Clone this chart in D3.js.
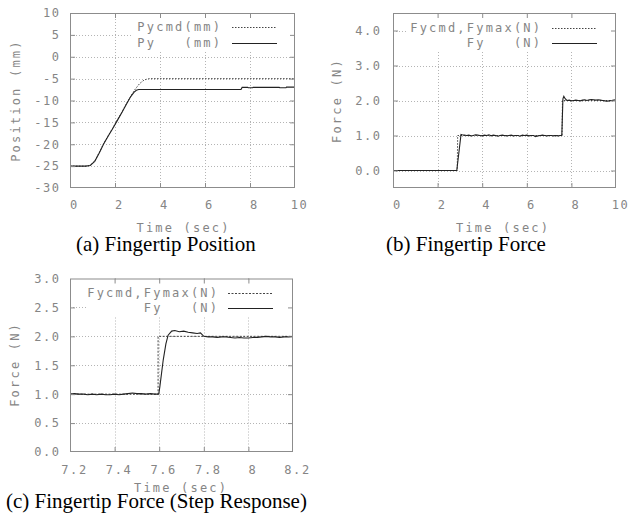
<!DOCTYPE html>
<html>
<head>
<meta charset="utf-8">
<script src="https://cdn.jsdelivr.net/npm/d3@7"></script>
<style>
  html, body { margin: 0; padding: 0; background: #fff; }
  svg { display: block; }
</style>
</head>
<body>
<div id="chart"></div>
<script>
// ---- data ----
// (a) position: [time (s), mm]
const pycmd = [
  [0, -25], [0.7, -25], [0.9, -24.8], [1.1, -23.8], [1.3, -21.9], [1.5, -19.8],
  [1.7, -18.0], [1.9, -16.3], [2.1, -14.5], [2.3, -12.7], [2.5, -10.8], [2.7, -9.0],
  [2.9, -7.4], [3.1, -6.1], [3.3, -5.3], [3.5, -5.0], [10, -5.0]
];
const py = [
  [0, -25], [0.7, -25], [0.9, -24.85], [1.1, -23.9], [1.3, -22.0], [1.5, -19.9],
  [1.7, -18.1], [1.9, -16.4], [2.1, -14.6], [2.3, -12.8], [2.5, -10.9], [2.7, -9.1],
  [2.85, -8.1], [2.95, -7.65], [3.05, -7.5], [7.6, -7.5], [7.65, -7.0], [7.9, -7.0],
  [7.92, -7.08], [8.12, -7.08], [8.14, -7.0], [9.3, -7.0], [9.32, -7.08], [9.6, -7.08],
  [9.62, -6.95], [10, -6.95]
];

// (b) force: [time (s), N]
const fycmdB = [[0, 0], [2.88, 0], [2.9, 1], [7.58, 1], [7.6, 2], [10, 2]];
const fyB = [
  [0, 0], [2.86, 0], [3.05, 1.03], [3.1, 1.02], [3.2, 1.01], [3.3, 1.00], [3.4, 1.01],
  [3.5, 0.99], [3.6, 1.00], [3.7, 1.02], [3.8, 1.01], [3.9, 1.00], [4.0, 0.99],
  [4.1, 1.01], [4.2, 1.00], [4.3, 1.02], [4.4, 0.99], [4.5, 1.01], [4.6, 1.00],
  [4.7, 0.98], [4.8, 1.00], [4.9, 1.01], [5.0, 1.00], [5.1, 0.99], [5.2, 1.00],
  [5.3, 1.01], [5.4, 0.99], [5.5, 1.00], [5.6, 1.00], [5.7, 0.98], [5.8, 1.01],
  [5.9, 1.00], [6.0, 1.01], [6.1, 0.99], [6.2, 1.00], [6.3, 1.00], [6.4, 0.97],
  [6.5, 0.99], [6.6, 1.00], [6.7, 1.01], [6.8, 1.00], [6.9, 0.99], [7.0, 1.00],
  [7.1, 1.00], [7.2, 0.99], [7.3, 1.00], [7.4, 0.99], [7.5, 1.00], [7.57, 1.00],
  [7.62, 2.05], [7.66, 2.12], [7.72, 2.05], [7.8, 2.00], [7.9, 2.01], [8.0, 1.99],
  [8.1, 2.00], [8.2, 2.01], [8.3, 2.00], [8.4, 1.99], [8.5, 2.01], [8.6, 2.02],
  [8.7, 2.00], [8.8, 2.02], [8.9, 2.03], [9.0, 2.02], [9.1, 2.01], [9.2, 2.02],
  [9.3, 2.01], [9.4, 2.00], [9.5, 1.99], [9.6, 1.98], [9.7, 1.99], [9.8, 2.00],
  [9.9, 2.01], [10, 2.02]
];

// (c) step response zoom
const fycmdC = [[7.2, 1], [7.595, 1], [7.595, 2], [8.2, 2]];
const fyC = [
  [7.2, 1.00], [7.22, 1.01], [7.24, 1.00], [7.26, 1.00], [7.28, 0.99], [7.30, 1.00],
  [7.32, 0.99], [7.34, 1.00], [7.36, 0.99], [7.38, 0.99], [7.40, 1.00], [7.42, 0.99],
  [7.44, 1.00], [7.46, 1.01], [7.48, 1.02], [7.50, 1.01], [7.52, 1.01], [7.54, 1.00],
  [7.56, 1.01], [7.58, 1.00], [7.598, 1.00], [7.603, 1.13], [7.618, 1.59],
  [7.63, 1.87], [7.64, 2.02], [7.656, 2.09], [7.67, 2.10], [7.69, 2.08], [7.71, 2.09],
  [7.73, 2.07], [7.75, 2.06], [7.77, 2.05], [7.785, 2.06], [7.80, 2.00], [7.82, 1.99],
  [7.84, 1.99], [7.86, 1.98], [7.88, 1.99], [7.90, 1.99], [7.92, 1.98], [7.94, 1.97],
  [7.96, 1.98], [7.98, 1.97], [8.00, 1.97], [8.02, 1.98], [8.04, 1.98], [8.06, 1.99],
  [8.08, 2.00], [8.10, 1.99], [8.12, 1.99], [8.14, 1.98], [8.16, 1.99], [8.18, 1.99],
  [8.2, 2.00]
];

// tick values
const xTicksAB = [0, 2, 4, 6, 8, 10];
const yTicksA = [-30, -25, -20, -15, -10, -5, 0, 5, 10];
const yTicksB = [0, 1, 2, 3, 4];
const xTicksC = [7.2, 7.4, 7.6, 7.8, 8, 8.2];
const yTicksC = [0, 0.5, 1, 1.5, 2, 2.5, 3];

const width = 628;
const height = 526;
const mono = "'DejaVu Sans Mono', monospace";
const textCol = "#858585";
const frameCol = "#8c8c8c";
const tickLS = 1.6;   // letter spacing of tick labels
const lblLS = 2.2;    // letter spacing of titles and key

const svg = d3.select("#chart").append("svg")
    .attr("width", width)
    .attr("height", height);

function panel(cfg) {
    const g = svg.append("g");
    const x = d3.scaleLinear().domain(cfg.xDomain).range([cfg.left, cfg.right]);
    const y = d3.scaleLinear().domain(cfg.yDomain).range([cfg.bottom, cfg.top]);

    // grid (dotted)
    const inX = cfg.xTicks.filter(t => x(t) > cfg.left + 1 && x(t) < cfg.right - 1);
    const inY = cfg.yTicks.filter(t => y(t) > cfg.top + 1 && y(t) < cfg.bottom - 1);
    const grid = g.append("g")
        .attr("stroke", "#b4b4b4")
        .attr("stroke-width", 1)
        .attr("stroke-dasharray", "1,2");
    grid.selectAll(".gx").data(inX).join("line")
        .attr("x1", d => Math.round(x(d)) + 0.5).attr("x2", d => Math.round(x(d)) + 0.5)
        .attr("y1", cfg.top).attr("y2", cfg.bottom);
    grid.selectAll(".gy").data(inY).join("line")
        .attr("x1", cfg.left).attr("x2", cfg.right)
        .attr("y1", d => Math.round(y(d)) + 0.5).attr("y2", d => Math.round(y(d)) + 0.5);

    // key box hides the grid behind it
    g.append("rect")
        .attr("x", cfg.key.x0).attr("y", cfg.key.y0)
        .attr("width", cfg.key.x1 - cfg.key.x0)
        .attr("height", cfg.key.y1 - cfg.key.y0)
        .attr("fill", "#fff");

    const line = d3.line().x(d => x(d[0])).y(d => y(d[1]));

    g.append("path").datum(cfg.cmd)
        .attr("d", line)
        .attr("fill", "none")
        .attr("stroke", "#444")
        .attr("stroke-width", 1)
        .attr("stroke-dasharray", cfg.cmdDash);
    g.append("path").datum(cfg.act)
        .attr("d", line)
        .attr("fill", "none")
        .attr("stroke", "#222")
        .attr("stroke-width", 1.1);

    // frame
    g.append("rect")
        .attr("x", cfg.left + 0.5).attr("y", cfg.top + 0.5)
        .attr("width", cfg.right - cfg.left - 1)
        .attr("height", cfg.bottom - cfg.top - 1)
        .attr("fill", "none")
        .attr("stroke", frameCol);

    // inward ticks, mirrored on all four sides
    const tickAxes = [
        [d3.axisBottom(x).tickValues(inX), `translate(0,${cfg.bottom})`],
        [d3.axisTop(x).tickValues(inX), `translate(0,${cfg.top})`],
        [d3.axisLeft(y).tickValues(inY), `translate(${cfg.left},0)`],
        [d3.axisRight(y).tickValues(inY), `translate(${cfg.right},0)`]
    ];
    tickAxes.forEach(([ax, tr]) => {
        g.append("g")
            .attr("transform", tr)
            .call(ax.tickSize(-5).tickFormat(""))
            .call(s => s.select(".domain").remove())
            .selectAll("line").attr("stroke", frameCol);
    });

    // tick labels
    const styleText = s => s.selectAll("text")
        .attr("fill", textCol)
        .style("font-family", mono)
        .style("font-size", "12px")
        .style("letter-spacing", tickLS + "px");

    g.append("g")
        .attr("transform", `translate(0,${cfg.bottom})`)
        .call(d3.axisBottom(x).tickValues(cfg.xTicks).tickFormat(cfg.xFmt)
            .tickSize(0).tickPadding(cfg.xPad))
        .call(s => s.select(".domain").remove())
        .call(styleText)
        .selectAll("text").attr("dx", 4);

    g.append("g")
        .attr("transform", `translate(${cfg.left},0)`)
        .call(d3.axisLeft(y).tickValues(cfg.yTicks).tickFormat(cfg.yFmt)
            .tickSize(0).tickPadding(cfg.yPad))
        .call(s => s.select(".domain").remove())
        .call(styleText);

    // axis titles
    g.append("text")
        .attr("x", cfg.xTitle[0] + lblLS / 2).attr("y", cfg.xTitle[1])
        .attr("text-anchor", "middle")
        .attr("dy", "0.35em")
        .attr("fill", textCol)
        .style("font-family", mono).style("font-size", "12px")
        .style("letter-spacing", lblLS + "px")
        .text("Time (sec)");
    g.append("text")
        .attr("transform", `translate(${cfg.yTitle[0]},${cfg.yTitle[1] - lblLS / 2}) rotate(-90)`)
        .attr("text-anchor", "middle")
        .attr("dy", "0.35em")
        .attr("fill", textCol)
        .style("font-family", mono).style("font-size", "12px")
        .style("letter-spacing", lblLS + "px")
        .text(cfg.yLabel);

    // key
    const key = cfg.key;
    const rows = [
        { label: cfg.keyLabels[0], y: key.rows[0], dash: cfg.cmdDash, col: "#444", w: 1 },
        { label: cfg.keyLabels[1], y: key.rows[1], dash: null, col: "#222", w: 1.1 }
    ];
    rows.forEach(r => {
        g.append("text")
            .attr("x", key.textEnd + lblLS).attr("y", r.y)
            .attr("dy", "0.35em")
            .attr("text-anchor", "end")
            .attr("fill", textCol)
            .style("font-family", mono).style("font-size", "12px")
            .style("letter-spacing", lblLS + "px")
            .text(r.label);
        g.append("line")
            .attr("x1", key.sample[0]).attr("x2", key.sample[1])
            .attr("y1", r.y + 0.5).attr("y2", r.y + 0.5)
            .attr("stroke", r.col)
            .attr("stroke-width", r.w)
            .attr("stroke-dasharray", r.dash);
    });

    // caption
    svg.append("text")
        .attr("x", cfg.caption[0]).attr("y", cfg.caption[1])
        .attr("fill", "#000")
        .style("font-family", "'Liberation Serif', 'Times New Roman', serif")
        .style("font-size", "21px")
        .text(cfg.captionText);
}

const nb = "\u00A0";

panel({
    left: 70, right: 295, top: 13, bottom: 188,
    xDomain: [0, 10], yDomain: [-30, 10],
    xTicks: xTicksAB, yTicks: yTicksA,
    xFmt: d => String(d), yFmt: d => String(d),
    xPad: 12, yPad: 11 - tickLS,
    cmd: pycmd, act: py, cmdDash: "1.5,1.5",
    key: { x0: 133, x1: 294, y0: 14, y1: 50, rows: [27, 43], textEnd: 220, sample: [232, 277] },
    keyLabels: ["Pycmd(mm)", "Py" + nb + nb + nb + "(mm)"],
    xTitle: [182.5, 227.5], yTitle: [16, 101.7], yLabel: "Position (mm)",
    caption: [76, 251], captionText: "(a) Fingertip Position"
});

panel({
    left: 393, right: 616, top: 13, bottom: 188,
    xDomain: [0, 10], yDomain: [-0.5, 4.5],
    xTicks: xTicksAB, yTicks: yTicksB,
    xFmt: d => String(d), yFmt: d3.format(".1f"),
    xPad: 12, yPad: 13 - tickLS,
    cmd: fycmdB, act: fyB, cmdDash: "1.5,1.5",
    key: { x0: 406, x1: 615, y0: 14, y1: 51, rows: [28, 43], textEnd: 540, sample: [552, 597] },
    keyLabels: ["Fycmd,Fymax(N)", "Fy" + nb + nb + nb + "(N)"],
    xTitle: [502, 227.5], yTitle: [337, 101.7], yLabel: "Force (N)",
    caption: [386, 251], captionText: "(b) Fingertip Force"
});

panel({
    left: 70, right: 293, top: 278.5, bottom: 452,
    xDomain: [7.2, 8.2], yDomain: [0, 3],
    xTicks: xTicksC, yTicks: yTicksC,
    xFmt: d => String(d), yFmt: d3.format(".1f"),
    xPad: 13, yPad: 11 - tickLS,
    cmd: fycmdC, act: fyC, cmdDash: "2,1.5",
    key: { x0: 86, x1: 292, y0: 279.5, y1: 316, rows: [293, 308], textEnd: 217, sample: [228, 273] },
    keyLabels: ["Fycmd,Fymax(N)", "Fy" + nb + nb + nb + "(N)"],
    xTitle: [180, 488], yTitle: [15, 365.5], yLabel: "Force (N)",
    caption: [6, 508], captionText: "(c) Fingertip Force (Step Response)"
});
</script>
</body>
</html>
